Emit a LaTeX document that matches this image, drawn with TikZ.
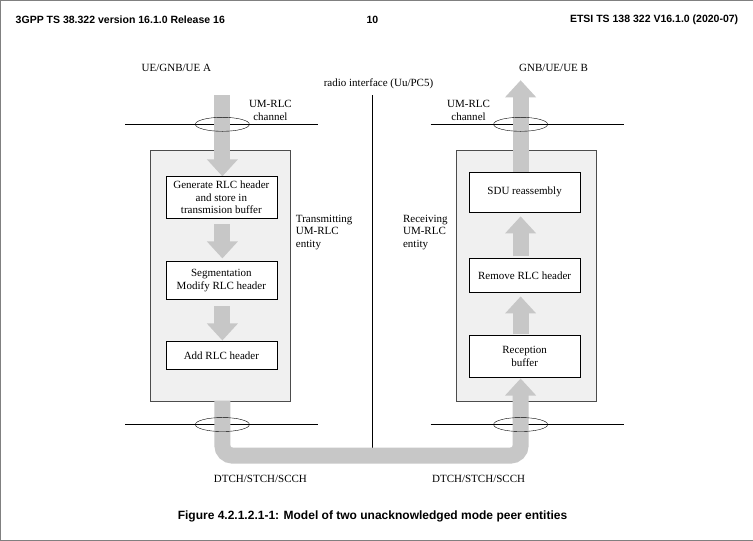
\documentclass[tikz,border=0pt]{standalone}
\usepackage{fontspec}
\setmainfont{Liberation Serif}
\newfontfamily\hdrfont{Liberation Sans}
\usetikzlibrary{arrows.meta,positioning,shapes.geometric}
\tikzset{
  entity/.style={draw=black!70,fill=black!6,minimum width=140pt,minimum height=250pt,anchor=north west},
  procbox/.style={draw,fill=white,minimum width=111pt,align=center,font=\fontsize{11}{12.5}\selectfont,inner sep=2pt},
  lbl/.style={align=center,font=\fontsize{11}{12.5}\selectfont},
  chan/.style={draw,ellipse,minimum width=54pt,minimum height=14pt,inner sep=0pt},
  flow/.style={line width=16pt,draw=black!22,-{Triangle[width=30pt,length=17pt]}},
  hdr/.style={font=\hdrfont\bfseries\fontsize{10.5}{12}\selectfont}
}
\begin{document}
\begin{tikzpicture}[x=1pt,y=-1pt]
    \draw[black!50,fill=white] (0,0) rectangle (752,540);

    % header and caption
    \node[hdr,anchor=west] (hl) at (12,20) {3GPP TS 38.322 version 16.1.0 Release 16};
    \node[hdr] (hc) at (372,20) {10};
    \node[hdr,anchor=east] (hr) at (741,20) {ETSI TS 138 322 V16.1.0 (2020-07)};
    \node[hdr,font=\hdrfont\bfseries\fontsize{12}{14}\selectfont] (cap) at (372,516) {Figure 4.2.1.2.1-1: Model of two unacknowledged mode peer entities};

    % entities
    \node[entity] (tx) at (150,150) {};
    \node[entity] (rx) at (455,150) {};

    % radio interface
    \draw (372,95) -- (372,450);
    \node[lbl] (ri) at (378,84) {radio interface (Uu/PC5)};

    % channel lines
    \foreach \y in {124,424} {
        \draw (125,\y) -- (318,\y);
        \draw (430,\y) -- (623,\y);
    }

    % data flow
    \draw[flow] (222,95) -- (222,176);
    \draw[flow] (222,224) -- (222,258);
    \draw[flow] (222,306) -- (222,340);
    \draw[flow,rounded corners=10pt] (222,400) -- (222,455) -- (520,455) -- (520,378);
    \draw[flow] (520,334) -- (520,296);
    \draw[flow] (520,256) -- (520,216);
    \draw[flow] (520,172) -- (520,80);

    % steps
    \node[procbox,minimum height=42pt] (gen) at (221,197) {Generate RLC header\\and store in\\transmision buffer};
    \node[procbox,minimum height=38pt] (seg) at (221,280) {Segmentation\\Modify RLC header};
    \node[procbox,minimum height=28pt] (add) at (221,355) {Add RLC header};
    \node[procbox,minimum height=40pt] (sdu) at (524,192) {SDU reassembly};
    \node[procbox,minimum height=34pt] (rem) at (524,275) {Remove RLC header};
    \node[procbox,minimum height=42pt] (buf) at (524,356) {Reception\\buffer};

    % channels
    \foreach \n/\x/\y in {ca/222/124,cb/520/124,cc/222/424,cd/520/424}
        \node[chan] (\n) at (\x,\y) {};

    % labels
    \node[lbl] (ua) at (176,68) {UE/GNB/UE A};
    \node[lbl] (ub) at (553,68) {GNB/UE/UE B};
    \node[lbl] (cha) at (270,110) {UM-RLC\\channel};
    \node[lbl] (chb) at (468,110) {UM-RLC\\channel};
    \node[lbl,align=left,anchor=west] (txl) at (292,232) {Transmitting\\UM-RLC\\entity};
    \node[lbl,align=left,anchor=west] (rxl) at (399,232) {Receiving\\UM-RLC\\entity};
    \node[lbl] (dl) at (260,478) {DTCH/STCH/SCCH};
    \node[lbl] (dr) at (478,478) {DTCH/STCH/SCCH};
\end{tikzpicture}
\end{document}
